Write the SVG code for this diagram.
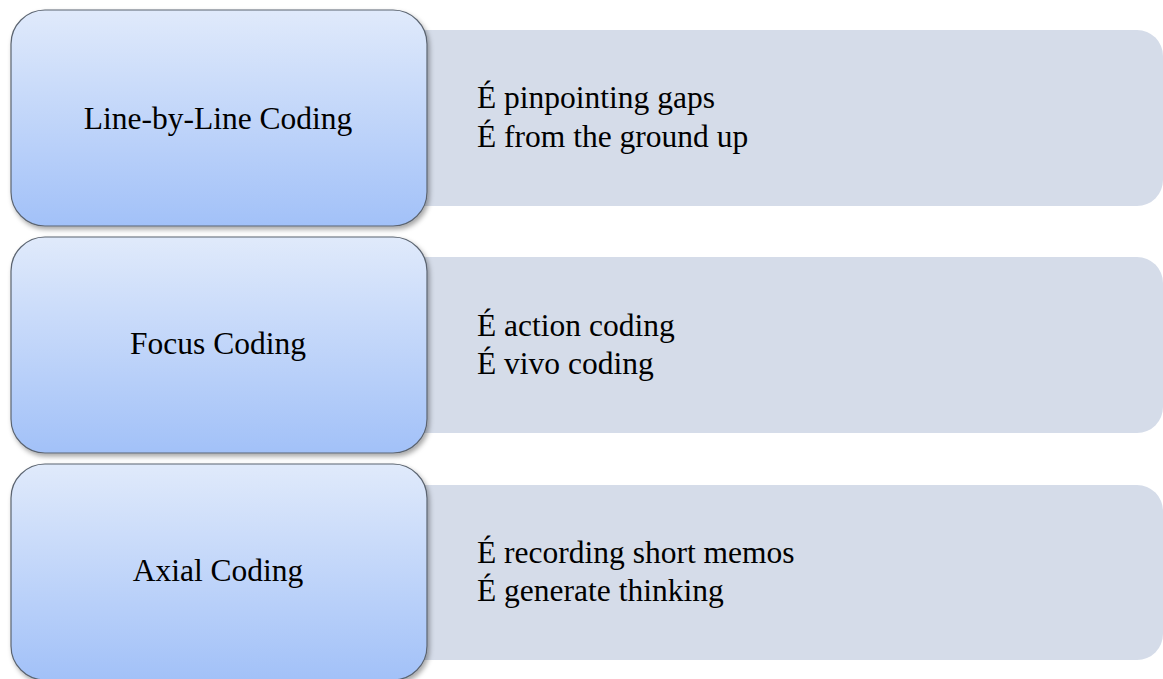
<svg xmlns="http://www.w3.org/2000/svg" width="1163" height="679" viewBox="0 0 1163 679">
  <defs>
    <linearGradient id="blueGrad" x1="0" y1="0" x2="0" y2="1">
      <stop offset="0" stop-color="#e0eafb"/>
      <stop offset="1" stop-color="#a2c1f8"/>
    </linearGradient>
    <filter id="shadow" x="-10%" y="-10%" width="120%" height="130%">
      <feDropShadow dx="2" dy="3" stdDeviation="2.5" flood-color="#000" flood-opacity="0.35"/>
    </filter>
  </defs>
  <style>
    .detail { fill: #d5dce9; }
    .head { fill: url(#blueGrad); stroke: #5b6470; stroke-width: 1.2; filter: url(#shadow); }
    .label { font-family: "Liberation Serif", "Times New Roman", serif; font-size: 31.5px; fill: #000; }
    .mid { text-anchor: middle; }
  </style>
  <rect width="1163" height="679" fill="#ffffff"/>
  <g id="connectors"></g>

  <g id="detail1">
    <rect class="detail" x="400" y="30" width="763" height="176" rx="26" ry="26"/>
    <text class="label" x="477" y="108">É pinpointing  gaps</text>
    <text class="label" x="477" y="147">É from the ground up</text>
  </g>
  <g id="detail2">
    <rect class="detail" x="400" y="257" width="763" height="176" rx="26" ry="26"/>
    <text class="label" x="477" y="336">É action coding</text>
    <text class="label" x="477" y="374">É vivo  coding</text>
  </g>
  <g id="detail3">
    <rect class="detail" x="400" y="485" width="763" height="175" rx="26" ry="26"/>
    <text class="label" x="477" y="563">É recording short memos</text>
    <text class="label" x="477" y="601">É generate thinking</text>
  </g>

  <g id="node1">
    <rect class="head" x="11" y="10" width="416" height="216" rx="34" ry="34"/>
    <text class="label mid" x="218" y="129">Line-by-Line Coding</text>
  </g>
  <g id="node2">
    <rect class="head" x="11" y="237" width="416" height="216" rx="34" ry="34"/>
    <text class="label mid" x="218" y="354">Focus Coding</text>
  </g>
  <g id="node3">
    <rect class="head" x="11" y="464" width="416" height="216" rx="34" ry="34"/>
    <text class="label mid" x="218" y="581">Axial Coding</text>
  </g>
</svg>
